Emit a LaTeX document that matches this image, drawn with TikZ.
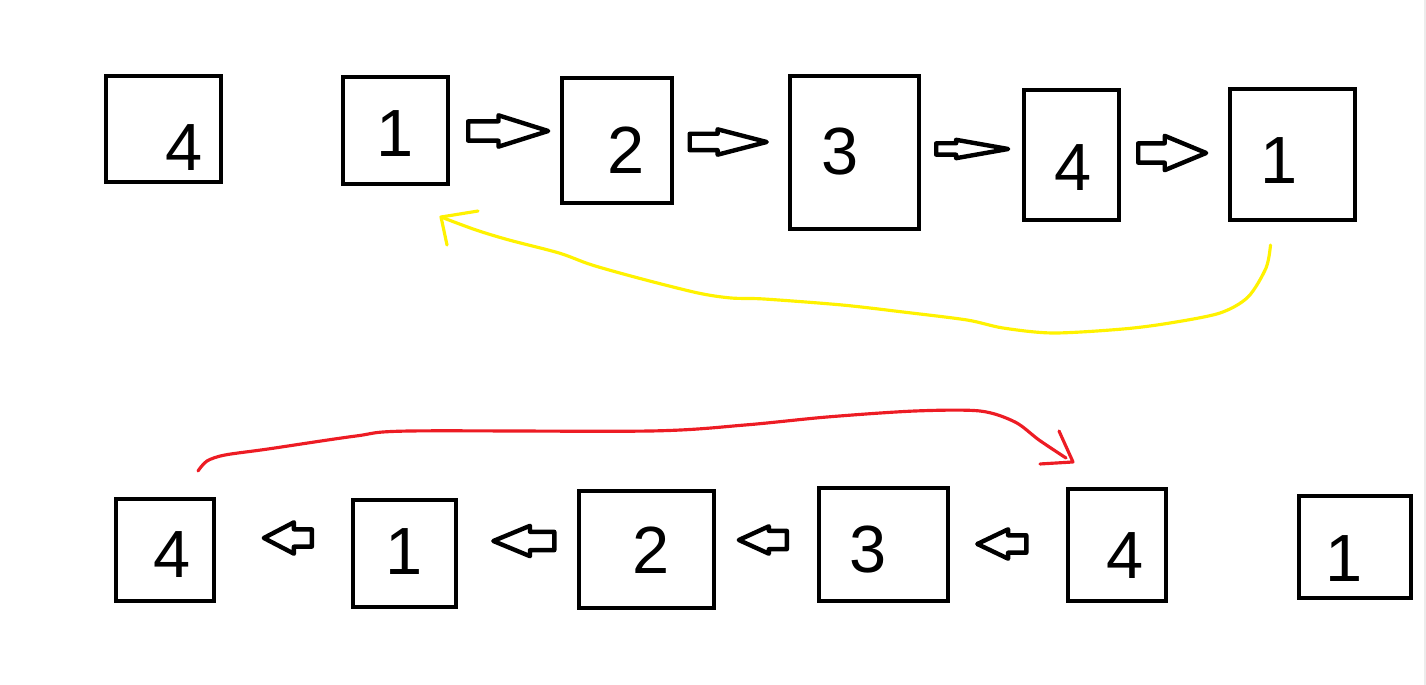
\documentclass[tikz,border=0pt]{standalone}
\usepackage{fontspec}
\usepackage{xcolor}
\usepackage{tikz}
\usetikzlibrary{arrows.meta}
\usetikzlibrary{positioning,fit,calc}
\usetikzlibrary{shapes.arrows}
\newfontfamily\digitfont{Liberation Sans}
\definecolor{paintyellow}{RGB}{255,242,0}
\definecolor{paintred}{RGB}{237,28,36}
\definecolor{edgegray}{RGB}{236,236,236}
\tikzset{
  cell/.style={draw,line width=2.3pt,inner sep=0pt,rectangle},
  digit/.style={font=\digitfont\fontsize{38}{38}\selectfont,inner sep=0pt},
  blockarr/.style n args={4}{single arrow,draw,line width=2.5pt,line join=round,
    inner xsep=0pt,inner ysep=#2*0.01cm,minimum height=#1*0.02cm,
    single arrow head extend=(#3-#2)*0.01cm,single arrow tip angle=#4,anchor=tail},
  yellowpen/.style={paintyellow,line width=1.8pt,line cap=round,line join=round},
  redpen/.style={paintred,line width=1.8pt,line cap=round,line join=round}
}

\begin{document}
\begin{tikzpicture}[x=0.02cm,y=-0.02cm]
    \useasboundingbox (0,0) rectangle (1426,685);
    \fill[edgegray] (1424,0) rectangle (1426,685);
    % boxes, top row then bottom row
    \foreach \n/\xa/\ya/\xb/\yb in {a/106/76/221/182, b/343/77/448/184, c/562/78/672/203,
        d/790/76/919/229, e/1024/90/1119/220, f/1230/89/1355/220,
        g/116/499/214/601, h/353/500/456/607, i/579/491/714/608,
        j/819/488/948/601, k/1068/489/1166/601, l/1299/496/1411/598}
      \node[cell,fit={(\xa,\ya) (\xb,\yb)}] (\n) {};
    \foreach \n/\d/\x/\y in {a/4/184/148, b/1/395/134, c/2/626/150, d/3/840/152,
        e/4/1073/168, f/1/1279/161, g/4/172/555, h/1/404/552, i/2/651/550,
        j/3/868/550, k/4/1125/556, l/1/1344/559}
      \node[digit] (\n-num) at (\x,\y) {\d};
    % hollow arrows
    \node[blockarr={80}{15}{27}{35}] (bc) at ($(b.east)!.5!(c.west)+(-39,-4.5)$) {};
    \node[blockarr={77}{12}{21}{29}] (cd) at ($(c.east)!.5!(d.west)+(-43.5,-4.5)$) {};
    \node[blockarr={72}{7}{14}{20}] (de) at ($(d.east)!.5!(e.west)+(-37.5,-4.75)$) {};
    \node[blockarr={68}{15}{30}{45}] (ef) at ($(e.east)!.5!(f.west)+(-38.5,-1.75)$) {};
    \node[blockarr={48}{13}{27}{55},shape border rotate=180] (hg) at ($(g.east)!.5!(h.west)+(30.5,-13.75)$) {};
    \node[blockarr={61}{14}{26}{45},shape border rotate=180] (ih) at ($(h.east)!.5!(i.west)+(39,-10.5)$) {};
    \node[blockarr={48}{14}{23}{49},shape border rotate=180] (ji) at ($(i.east)!.5!(j.west)+(22.5,-7)$) {};
    \node[blockarr={49}{13}{25}{51},shape border rotate=180] (kj) at ($(j.east)!.5!(k.west)+(20.5,-0.75)$) {};
    % yellow: from the last 1 back under the first 1
    \coordinate (ystart) at ($(f.south)+(-22,23)$);
    \coordinate (yend) at ($(b.south east)+(-9,31)$);
    \draw[yellowpen] plot[smooth] coordinates
      {(ystart) (1266,268) (1248,297) (1220,313) (1170,323) (1123,329) (1053,333)
       (1003,328) (967,320) (903,312) (842,305) (764,299) (731,298) (698,293)
       (642,279) (592,265) (559,253) (509,240) (476,230) (yend)};
    \draw[yellowpen] ($(yend)+(37,-6)$) -- (yend) -- ($(yend)+(6,28)$);
    % red: from the first 4 over to the second 4
    \coordinate (rstart) at ($(g.north)+(33,-26)$);
    \coordinate (rend) at ($(k.north)+(-44,-25)$);
    \draw[redpen] plot[smooth] coordinates
      {(rstart) (207,461) (225,455) (268,449) (356,436) (410,431) (650,431)
       (745,425) (827,417) (915,411) (980,411) (1015,422) (1039,440) (1066,458)};
    \draw[redpen] ($(rend)+(-14,-31)$) -- (rend) -- ($(rend)+(-33,2)$);
  \end{tikzpicture}
\end{document}
